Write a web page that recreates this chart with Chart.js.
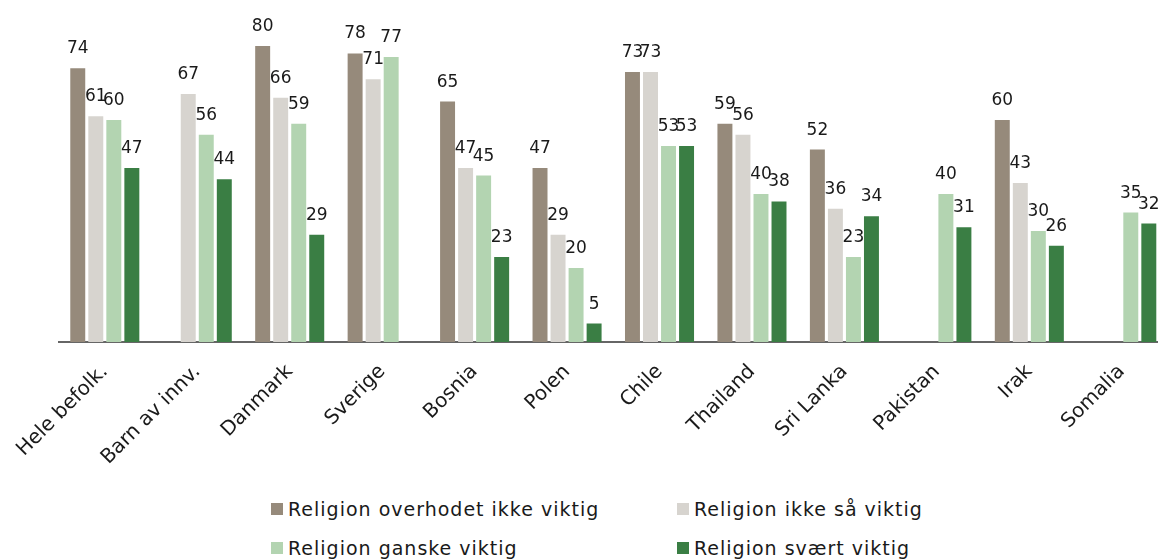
<!DOCTYPE html>
<html>
<head>
<meta charset="utf-8">
<script src="https://cdn.jsdelivr.net/npm/chart.js@4"></script>
<style>
  html, body { margin: 0; padding: 0; background: #fff; overflow: hidden; }
  body { width: 1158px; height: 560px; position: relative; }
  #wrap { position: absolute; left: 0; top: 0; width: 1180px; height: 480px; }
  #legend { position: absolute; left: 0; top: 0; font-family: "DejaVu Sans", Verdana, sans-serif; font-size: 19px; letter-spacing: 1px; color: #1a1a1a; }
  .item { position: absolute; white-space: nowrap; display: flex; align-items: center; }
  .box { width: 12px; height: 12px; margin-right: 5px; }
</style>
</head>
<body>
<div id="wrap"><canvas id="chart"></canvas></div>
<div id="legend"></div>
<script>
// Data
const categories = ['Hele befolk.', 'Barn av innv.', 'Danmark', 'Sverige', 'Bosnia', 'Polen',
  'Chile', 'Thailand', 'Sri Lanka', 'Pakistan', 'Irak', 'Somalia'];
const seriesNames = ['Religion overhodet ikke viktig', 'Religion ikke så viktig',
  'Religion ganske viktig', 'Religion svært viktig'];
const notImportant = [74, null, 80, 78, 65, 47, 73, 59, 52, null, 60, null];
const notSoImportant = [61, 67, 66, 71, 47, 29, 73, 56, 36, null, 43, null];
const fairlyImportant = [60, 56, 59, 77, 45, 20, 53, 40, 23, 40, 30, 35];
const veryImportant = [47, 44, 29, null, 23, 5, 53, 38, 34, 31, 26, 32];
const colors = ['#968a7b', '#d7d4cf', '#b3d4b1', '#3a7e44'];

const FONT = '"DejaVu Sans", Verdana, sans-serif';

// Value labels above the bars
const barLabels = {
  id: 'barLabels',
  afterDatasetsDraw(chart) {
    const ctx = chart.ctx;
    ctx.save();
    ctx.font = '17px ' + FONT;
    ctx.fillStyle = '#1a1a1a';
    ctx.textAlign = 'center';
    ctx.textBaseline = 'alphabetic';
    chart.data.datasets.forEach((ds, i) => {
      chart.getDatasetMeta(i).data.forEach((bar, j) => {
        const v = ds.data[j];
        if (v === null) return;
        ctx.fillText(v, bar.x, bar.y - 15);
      });
    });
    ctx.restore();
  }
};

const series = [notImportant, notSoImportant, fairlyImportant, veryImportant];

const chart = new Chart(document.getElementById('chart'), {
  type: 'bar',
  data: {
    labels: categories,
    datasets: series.map((d, i) => ({
      label: seriesNames[i],
      data: d,
      backgroundColor: colors[i],
      categoryPercentage: 0.78,
      barPercentage: 0.83
    }))
  },
  options: {
    responsive: true,
    maintainAspectRatio: false,
    animation: false,
    layout: { padding: { left: 58, right: 12, top: 9, bottom: 0 } },
    plugins: {
      legend: { display: false },
      tooltip: { enabled: false }
    },
    scales: {
      x: {
        grid: { display: false, drawTicks: false },
        border: { color: '#666', width: 2 },
        ticks: {
          color: '#1a1a1a',
          font: { family: FONT, size: 20 },
          maxRotation: 45,
          minRotation: 45,
          padding: 18,
          autoSkip: false
        },
        afterFit: s => { s.height = 138; }
      },
      y: {
        display: false,
        min: 0,
        max: 90
      }
    }
  },
  plugins: [barLabels]
});

// Legend in two columns
const legend = document.getElementById('legend');
const legendPos = [[271, 510], [677, 510], [271, 549], [677, 549]];
chart.data.datasets.forEach((ds, i) => {
  const item = document.createElement('div');
  item.className = 'item';
  item.style.left = legendPos[i][0] + 'px';
  item.style.top = (legendPos[i][1] - 12) + 'px';
  item.innerHTML = '<span class="box" style="background:' + ds.backgroundColor + '"></span>' + ds.label;
  legend.appendChild(item);
});
</script>
</body>
</html>
